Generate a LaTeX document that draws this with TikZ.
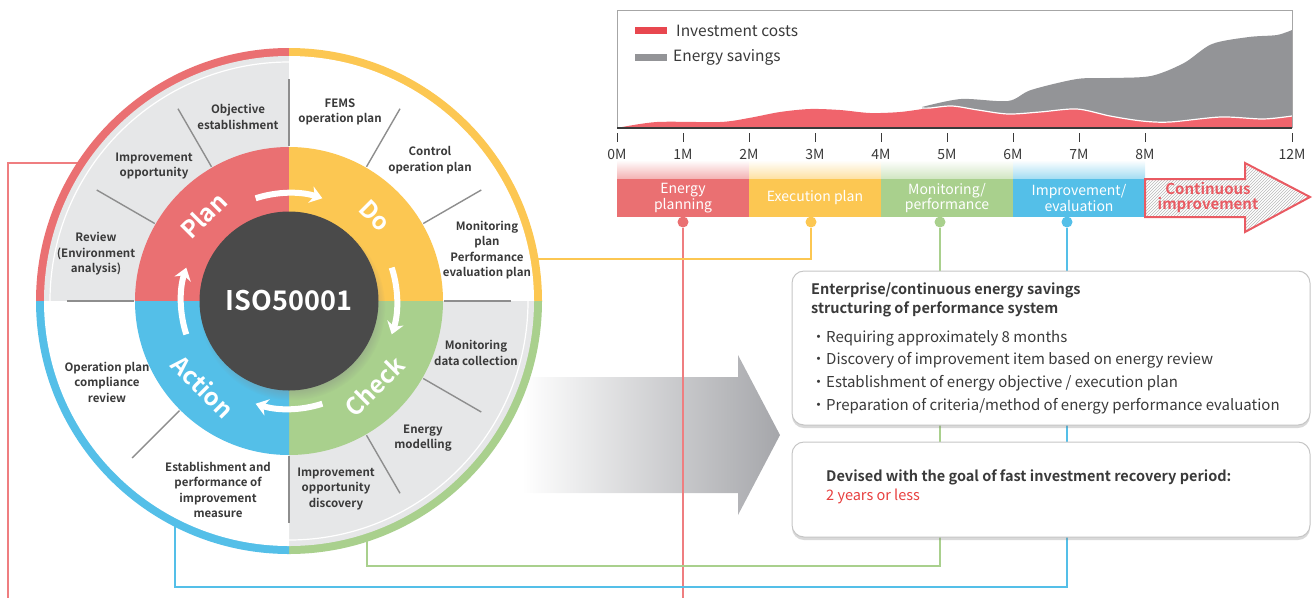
\documentclass[tikz,border=0pt]{standalone}
\usepackage{fontspec}
\setmainfont{Noto Sans CJK KR}[BoldFont={Noto Sans CJK KR Bold}]
\usetikzlibrary{arrows.meta,shadows,patterns}
\definecolor{cplan}{HTML}{EA7072}
\definecolor{cdo}{HTML}{FCC752}
\definecolor{ccheck}{HTML}{A9D08D}
\definecolor{cact}{HTML}{54BFE8}
\definecolor{sectorgrey}{HTML}{E6E7E8}
\definecolor{isodark}{HTML}{4A4A4A}
\definecolor{divgrey}{HTML}{8E8E8E}
\definecolor{textdark}{HTML}{3A3A3A}
\definecolor{chartred}{HTML}{F0646C}
\definecolor{legendred}{HTML}{E8474F}
\definecolor{chartgrey}{HTML}{939497}
\definecolor{clink}{HTML}{EF7E80}
\definecolor{textred}{HTML}{E8403F}
\definecolor{contred}{HTML}{E95A62}
\definecolor{arrowgrey}{HTML}{A5A6AA}

\begin{document}
\begin{tikzpicture}[x=1pt, y=1pt,
        item/.style={font=\bfseries\fontsize{11.5}{15.5}\selectfont, text=textdark, align=center, inner sep=0},
        ringlbl/.style={font=\bfseries\fontsize{24}{24}\selectfont, text=white, inner sep=0},
        divider/.style={draw=divgrey, line width=1.4},
        cyc/.style={white, line width=6, -{Stealth[length=12pt, width=17pt]}},
        phase/.style={minimum width=132, minimum height=38, inner sep=0, text=white, align=center, font=\fontsize{14}{15.5}\selectfont},
        dot/.style={circle, inner sep=0, minimum size=11},
        conn/.style={line width=1.5},
        axislbl/.style={font=\fontsize{14}{14}\selectfont, text=textdark, inner sep=0},
        tick/.style={draw=textdark, line width=1},
        infobox/.style={draw=gray!45, line width=1, fill=white, rounded corners=12, drop shadow={shadow xshift=0pt, shadow yshift=-3pt, opacity=0.3}},
        boxhead/.style={font=\bfseries\fontsize{14.5}{19}\selectfont, text=textdark, align=left, inner sep=0},
        boxtext/.style={font=\fontsize{15}{22.7}\selectfont, text=textdark, align=left, inner sep=0}
    ]
    \useasboundingbox (0,0) rectangle (1314,-598);
    \coordinate (c) at (289,-301);

    % chart
    \fill[chartgrey] (922,-107) plot[smooth] coordinates {(922,-107) (961,-99) (1008,-101) (1031,-90) (1077,-79) (1110,-78) (1151,-76) (1184,-63) (1212,-44) (1249,-37) (1277,-35) (1292,-30)} -- (1292,-128) -- (922,-128) -- cycle;
    \fill[chartred] (617,-128) plot[smooth] coordinates {(617,-128) (657,-122) (720,-122) (749,-118) (780,-112) (810,-109) (840,-110) (870,-113) (900,-112) (930,-108) (952,-106) (978,-110) (1008,-114) (1040,-112) (1077,-109) (1110,-116) (1142,-121) (1170,-122) (1221,-117) (1263,-119) (1292,-116)} -- (1292,-128) -- cycle;
    \draw[white, line width=1.2] plot[smooth] coordinates {(922,-108) (930,-108) (952,-106) (978,-110) (1008,-114) (1040,-112) (1077,-109) (1110,-116) (1142,-121) (1170,-122) (1221,-117) (1263,-119) (1292,-116)};
    \draw[gray!70, line width=0.8] (617,-128) -- (617,-10) -- (1292,-10) -- (1292,-128);
    \draw[textdark, line width=1.4] (617,-128) -- (1292,-128);
    \draw[legendred, line width=7] (635,-30) -- (667,-30);
    \draw[chartgrey, line width=7] (635,-57) -- (667,-57);
    \node[anchor=west, inner sep=0, font=\fontsize{15.5}{15.5}\selectfont, text=textdark] (lgcost) at (676,-31) {Investment costs};
    \node[anchor=west, inner sep=0, font=\fontsize{15.5}{15.5}\selectfont, text=textdark] (lgsave) at (673,-57) {Energy savings};

    \foreach \x/\m in {617/0M,683/1M,749/2M,815/3M,881/4M,947/5M,1013/6M,1079/7M,1145/8M,1292/12M} {
        \draw[tick] (\x,-133) -- (\x,-142);
        \node[axislbl] (t\m) at (\x,-154) {\m};
    }

    % phases
    \foreach \x/\col in {617/cplan,749/cdo,881/ccheck,1013/cact}
        \shade[top color=white, bottom color=\col!55] (\x,-160) rectangle ++(132,-19);
    \node[phase, fill=cplan] (bplan) at (683,-198) {Energy\\planning};
    \node[phase, fill=cdo] (bdo) at (815,-198) {Execution plan};
    \node[phase, fill=ccheck] (bcheck) at (947,-198) {Monitoring/\\performance};
    \node[phase, fill=cact] (bact) at (1079,-198) {Improvement/\\evaluation};
    \draw[contred, line width=2, pattern=north east lines, pattern color=gray!55] (1145,-179) -- (1245,-179) -- (1245,-163) -- (1310,-197) -- (1245,-232) -- (1245,-217) -- (1145,-217) -- cycle;
    \node[font=\bfseries\fontsize{15}{15}\selectfont, text=contred, align=center, inner sep=0] (cont) at (1208,-198) {Continuous\\improvement};

    % big arrow
    \shade[left color=white, right color=arrowgrey] (522,-377) -- (738,-377) -- (738,-355) -- (780,-435) -- (738,-515) -- (738,-493) -- (522,-493) -- cycle;

    % connectors
    \coordinate (pplan) at ([shift={(c)}]146.5:250);
    \coordinate (pdo) at ([shift={(c)}]9.7:250);
    \coordinate (pcheck) at ([shift={(c)}]-71.8:250);
    \coordinate (pact) at ([shift={(c)}]242.9:250);
    \coordinate (rleft) at (8,-598);
    \coordinate (rdown) at (683,-598);
    \node[dot, fill=cplan] (dplan) at (683,-222) {};
    \node[dot, fill=cdo] (ddo) at (811,-222) {};
    \node[dot, fill=ccheck] (dcheck) at (940,-222) {};
    \node[dot, fill=cact] (dact) at (1067,-222) {};
    \draw[conn, clink] (pplan) -| (rleft);
    \draw[conn, clink] (dplan) -- (rdown);
    \draw[conn, cdo] (pdo) -| (ddo);
    \draw[conn, ccheck] (pcheck) -- (pcheck |- 0,-566) -| (dcheck);
    \draw[conn, cact] (pact) -- (pact |- 0,-587) -| (dact);

    % PDCA wheel
    \foreach \a/\col in {90/cplan,0/cdo,-90/ccheck,180/cact}
        \fill[\col] (c) -- ([shift={(c)}]\a:253) arc (\a:\a+90:253) -- cycle;
    \foreach \a/\col in {90/sectorgrey,0/white,-90/sectorgrey,180/white}
        \fill[\col] (c) -- ([shift={(c)}]\a:245) arc (\a:\a+90:245) -- cycle;
    \draw[white, line width=1.2] (c) circle (239);
    \foreach \a in {0,30,60,90,120,150,180,225,270,300,330}
        \draw[divider] ([shift={(c)}]\a:155) -- ([shift={(c)}]\a:222);
    \foreach \a/\col in {90/cplan,0/cdo,-90/ccheck,180/cact}
        \fill[\col] (c) -- ([shift={(c)}]\a:154) arc (\a:\a+90:154) -- cycle;
    \node[circle, fill=isodark, minimum size=179, inner sep=0, text=white, font=\bfseries\fontsize{27}{27}\selectfont,
        circular drop shadow={shadow xshift=3pt, shadow yshift=-6pt, shadow scale=1.04, opacity=0.45}] (iso) at (c) {ISO50001};
    \foreach \a in {90,0,-90,180}
        \draw[cyc] ([shift={(c)}]\a+18:108) arc (\a+18:\a-18:108);

    \node[ringlbl, rotate=45] (lplan) at ([shift={(c)}]135:121) {Plan};
    \node[ringlbl, rotate=-45] (ldo) at ([shift={(c)}]45:121) {Do};
    \node[ringlbl, rotate=45] (lcheck) at ([shift={(c)}]-45:121) {Check};
    \node[ringlbl, rotate=-45] (lact) at ([shift={(c)}]225:121) {Action};

    \node[item] (objest) at (238,-117) {Objective\\establishment};
    \node[item] (impopp) at (154,-166) {Improvement\\opportunity};
    \node[item] (review) at (96,-254) {Review\\(Environment\\analysis)};
    \node[item] (fems) at (340,-112) {FEMS\\operation plan};
    \node[item] (ctrl) at (430,-160) {Control\\operation plan};
    \node[item] (monplan) at (487,-250) {Monitoring\\plan\\Performance\\evaluation plan};
    \node[item] (mondata) at (476,-353) {Monitoring\\data collection};
    \node[item] (enmod) at (423,-438) {Energy\\modelling};
    \node[item] (impdisc) at (336,-489) {Improvement\\opportunity\\discovery};
    \node[item] (opcomp) at (107,-382) {Operation plan\\compliance\\review};
    \node[item] (estab) at (218,-490) {Establishment and\\performance of\\improvement\\measure};

    % boxes
    \node[infobox, minimum width=518, minimum height=154] (box1) at (1051,-348) {};
    \node[infobox, minimum width=518, minimum height=95] (box2) at (1051,-489.5) {};
    \node[boxhead, anchor=west] (goal1) at (811,-299.5) {Enterprise/continuous energy savings\\structuring of performance system};
    \node[boxtext, anchor=west] (bullets) at (811,-372) {・Requiring approximately 8 months\\・Discovery of improvement item based on energy review\\・Establishment of energy objective / execution plan\\・Preparation of criteria/method of energy performance evaluation};
    \node[boxhead, anchor=west] (goal2) at (826,-486.5) {Devised with the goal of fast investment recovery period:\\\textcolor{textred}{\mdseries 2 years or less}};

    \end{tikzpicture}
\end{document}
